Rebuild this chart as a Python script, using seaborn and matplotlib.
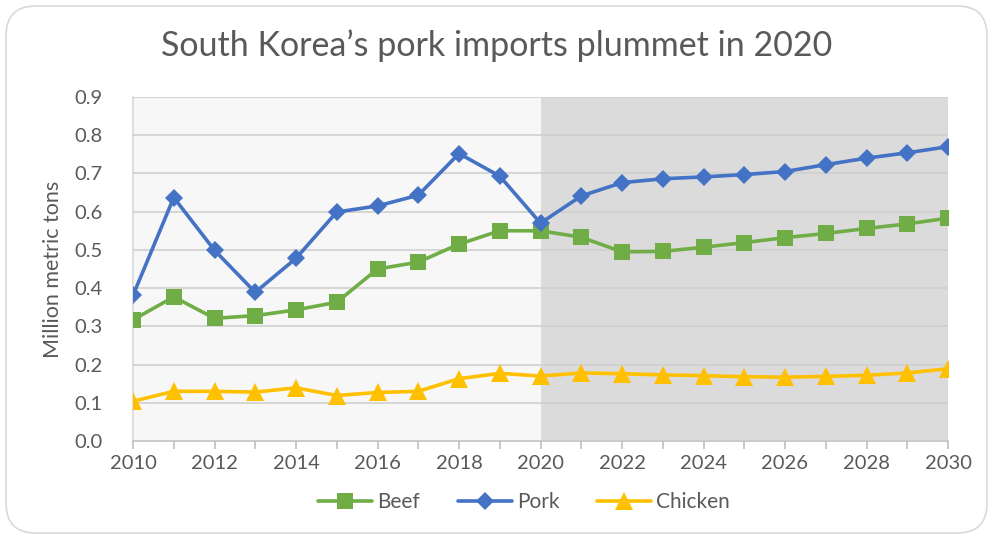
import numpy as np
import pandas as pd
import matplotlib
matplotlib.use("Agg")
import matplotlib.pyplot as plt
from matplotlib.patches import FancyBboxPatch
import seaborn as sns

years = list(range(2010, 2031))
beef = [0.317, 0.377, 0.321, 0.328, 0.343, 0.363, 0.450, 0.468, 0.515, 0.550, 0.550,
        0.533, 0.495, 0.496, 0.507, 0.519, 0.532, 0.543, 0.556, 0.568, 0.583]
pork = [0.381, 0.637, 0.499, 0.389, 0.478, 0.599, 0.615, 0.643, 0.752, 0.693, 0.570,
        0.641, 0.676, 0.686, 0.691, 0.697, 0.705, 0.723, 0.740, 0.754, 0.770]
chicken = [0.104, 0.130, 0.130, 0.128, 0.139, 0.119, 0.127, 0.130, 0.163, 0.177, 0.170,
           0.178, 0.176, 0.173, 0.171, 0.168, 0.167, 0.169, 0.172, 0.178, 0.189]
series_names = ["Beef", "Pork", "Chicken"]
title = "South Korea\u2019s pork imports plummet in 2020"
ylabel = "Million metric tons"
forecast_start = 2020

df = pd.DataFrame({
    "year": years * 3,
    "value": beef + pork + chicken,
    "meat": sum([[n] * len(years) for n in series_names], []),
})

sns.set_theme(style="white")
plt.rcParams["font.family"] = ["Lato", "DejaVu Sans"]
text_color = "#595959"

fig = plt.figure(figsize=(9.93, 5.39), dpi=100)
W, H = 993, 539
ax = fig.add_axes([133 / W, 1 - 441 / H, (948 - 133) / W, (441 - 97) / H])

# rounded chart frame
frame = FancyBboxPatch((6 / W, 6 / H), (W - 12) / W, (H - 12) / H,
                       boxstyle="round,pad=0,rounding_size=0.03",
                       transform=fig.transFigure, facecolor="white",
                       edgecolor="#D9D9D9", linewidth=1.2, zorder=-10,
                       mutation_aspect=W / H)
fig.patches.append(frame)

ax.set_facecolor("none")
ax.axvspan(years[0], forecast_start, color="#F7F7F7", zorder=0, lw=0)
ax.axvspan(forecast_start, years[-1], color="#DBDBDB", zorder=0, lw=0)

palette = {"Beef": "#70AD47", "Pork": "#4472C4", "Chicken": "#FFC000"}
markers = {"Beef": "s", "Pork": "D", "Chicken": "^"}
sizes = {"Beef": 11.5, "Pork": 9, "Chicken": 12.5}
for name in series_names:
    sub = df[df["meat"] == name]
    sns.lineplot(data=sub, x="year", y="value", ax=ax, color=palette[name],
                 marker=markers[name], markersize=sizes[name], markeredgewidth=0,
                 linewidth=2.6, label=name, zorder=3, legend=False)

ax.set_xlim(years[0], years[-1])
ax.set_ylim(0, 0.9)
ax.set_yticks(np.arange(0, 0.91, 0.1))
ax.set_yticklabels([f"{v:.1f}" for v in np.arange(0, 0.91, 0.1)])
ax.set_xticks(years, minor=True)
ax.set_xticks(years[::2])
ax.grid(axis="y", color="#D0D0D0", linewidth=1.2, zorder=1)
ax.set_axisbelow(False)
for gl in ax.get_ygridlines():
    gl.set_zorder(1)

for side in ["top", "right"]:
    ax.spines[side].set_visible(False)
ax.spines["left"].set_color("#D9D9D9")
ax.spines["left"].set_linewidth(1.2)
ax.spines["bottom"].set_color("#BFBFBF")
ax.spines["bottom"].set_linewidth(1.2)
ax.tick_params(axis="x", which="both", direction="out", length=6, width=1.2,
               color="#BFBFBF", bottom=True, labelsize=14.5, labelcolor=text_color, pad=4)
ax.tick_params(axis="y", length=0, labelsize=14.5, labelcolor=text_color, pad=22)

ax.set_xlabel("")
ax.set_ylabel(ylabel, fontsize=15.5, color=text_color, labelpad=8)
fig.text(0.5, 1 - 46 / H, title, ha="center", va="center", fontsize=24.5, color=text_color)

handles, labels = ax.get_legend_handles_labels()
fig.legend(handles, labels, loc="center", bbox_to_anchor=(524 / W, 1 - 502 / H),
           ncol=3, frameon=False, fontsize=15, labelcolor=text_color,
           handlelength=2.6, columnspacing=1.8, handletextpad=0.25)

fig.savefig("out.png", dpi=100)
